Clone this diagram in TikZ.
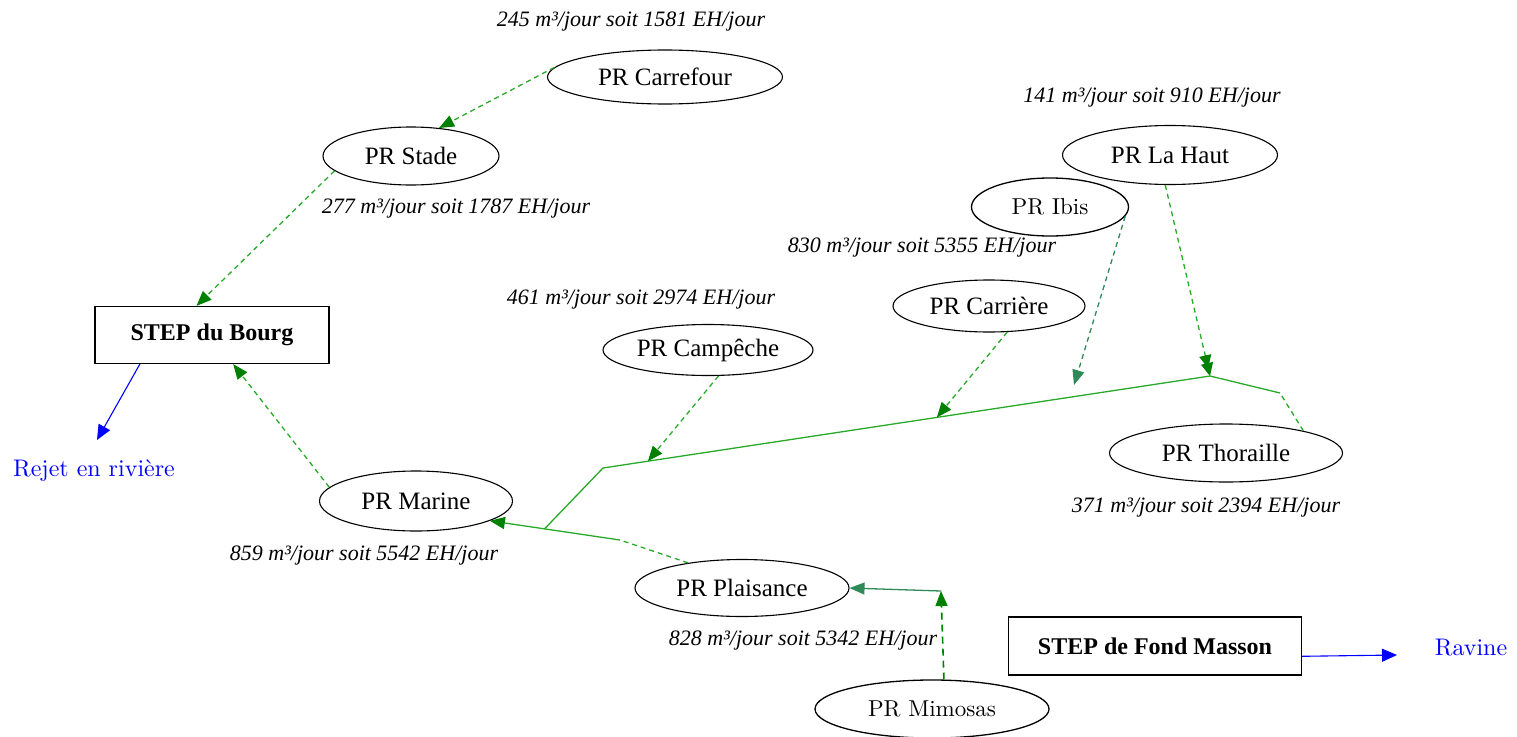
\documentclass[tikz,border=0pt]{standalone}
\usepackage{fontspec}
\newfontfamily\tms{Liberation Serif}
\newfontfamily\pal[Extension=.otf]{lmroman10-regular}
\usetikzlibrary{arrows.meta,calc,shapes.geometric}

\definecolor{flow}{RGB}{40,170,40}
\definecolor{tipgreen}{RGB}{0,128,0}
\definecolor{sea}{RGB}{46,139,87}
\definecolor{rejetblue}{RGB}{0,0,255}

\tikzset{
  pr/.style={ellipse, draw=black, line width=1.1pt, inner sep=0pt,
    font=\tms\fontsize{25}{28}\selectfont},
  prl/.style={ellipse, draw=black, line width=1.3pt, inner sep=0pt,
    font=\pal\fontsize{23}{26}\selectfont},
  stepbox/.style={draw=black, line width=1.3pt, inner sep=0pt,
    minimum width=234pt, minimum height=57pt,
    font=\tms\bfseries\fontsize{24}{27}\selectfont},
  debit/.style={font=\tms\itshape\fontsize{22}{25}\selectfont, inner sep=0pt},
  exut/.style={text=rejetblue, font=\pal\fontsize{24}{28}\selectfont, inner sep=0pt},
  gtip/.style={-{Triangle[length=15pt,width=12pt,color=tipgreen]}},
  seatip/.style={-{Triangle[length=15pt,width=12pt,color=sea]}},
  dbltip/.style={-{Triangle[length=13pt,width=12pt,color=tipgreen,sep=-5pt]Triangle[length=13pt,width=12pt,color=tipgreen]}},
  dline/.style={draw=flow, line width=1.3pt, dash pattern=on 5pt off 4pt},
  sline/.style={draw=flow, line width=1.3pt},
  bline/.style={draw=rejetblue, line width=1.1pt,
    -{Triangle[length=15pt,width=13pt,color=rejetblue]}},
}

\begin{document}
\begin{tikzpicture}[x=1pt, y=-1pt]
\useasboundingbox (0,0) rectangle (1517,736);

% pumping stations
\node[pr, minimum width=235pt, minimum height=54pt] (carrefour) at (665,77) {PR Carrefour};
\node[pr, minimum width=176pt, minimum height=58pt] (stade) at (411,156) {PR Stade};
\node[pr, minimum width=193pt, minimum height=60pt] (marine) at (416,501) {PR Marine};
\node[pr, minimum width=210pt, minimum height=51pt] (campeche) at (708,350) {PR Campêche};
\node[pr, minimum width=192pt, minimum height=52pt] (carriere) at (989,306) {PR Carrière};
\node[prl, minimum width=157pt, minimum height=58pt] (ibis) at (1050,207) {PR Ibis};
\node[pr, minimum width=215pt, minimum height=59pt] (lahaut) at (1170,155) {PR La Haut};
\node[pr, minimum width=233pt, minimum height=58pt] (thoraille) at (1226,453) {PR Thoraille};
\node[pr, minimum width=214pt, minimum height=57pt] (plaisance) at (742,588) {PR Plaisance};
\node[prl, minimum width=234pt, minimum height=58pt] (mimosas) at (932,709) {PR Mimosas};

% treatment plants and outlets
\node[stepbox] (bourg) at (212,335) {STEP du Bourg};
\node[stepbox, minimum width=293pt, minimum height=58pt] (fm) at (1155,646) {STEP de Fond Masson};
\node[exut] (rejet) at (94,471) {Rejet en rivière};
\node[exut] (ravine) at (1471,648) {Ravine};

% daily flows
\node[debit] (dcarrefour) at (631,22) {245 m³/jour soit 1581 EH/jour};
\node[debit] (dstade) at (456,209) {277 m³/jour soit 1787 EH/jour};
\node[debit] (dmarine) at (364,556) {859 m³/jour soit 5542 EH/jour};
\node[debit] (dcampeche) at (641,300) {461 m³/jour soit 2974 EH/jour};
\node[debit] (dcarriere) at (922,248) {830 m³/jour soit 5355 EH/jour};
\node[debit] (dlahaut) at (1152,98) {141 m³/jour soit 910 EH/jour};
\node[debit] (dthoraille) at (1206,508) {371 m³/jour soit 2394 EH/jour};
\node[debit] (dplaisance) at (803,641) {828 m³/jour soit 5342 EH/jour};

% network junctions
\coordinate (j1) at (603,468);
\coordinate (j2) at (1210,376);
\coordinate (j3) at (1280,393);
\coordinate (j5) at (620,540);
\coordinate (j6) at (941,591);
\coordinate (j4) at ($(j5)!0.58!(marine.345)$);
\coordinate (rejtip) at (97,440);
\coordinate (ibistip) at (1074,385);
\coordinate (ravtip) at (1397,655);

% collectors
\draw[dline, gtip] (carrefour.175) -- (stade.45);
\draw[dline, gtip] (stade.191) -- (bourg.118);
\draw[dline, gtip] (marine.171) -- (bourg.306);
\draw[sline] (j2) -- (j1) -- (j4);
\draw[dline] (thoraille.16) -- (j3);
\draw[sline] (j3) -- (j2);
\draw[dline, dbltip] (lahaut.261) -- (j2);
\draw[dline, draw=sea, seatip] (ibis.353) -- (ibistip);
\draw[dline, gtip] (campeche.292) -- ($(j1)!0.074!(j2)$);
\draw[dline, gtip] (carriere.305) -- ($(j1)!0.55!(j2)$);
\draw[dline] (plaisance.155) -- (j5);
\draw[sline, gtip] (j5) -- (marine.345);
\draw[draw=tipgreen, line width=1.6pt, dash pattern=on 7pt off 5pt, gtip] (mimosas.68) -- (j6);
\draw[line width=1.3pt, draw=sea, seatip] (j6) -- (plaisance.east);

% discharges
\draw[bline] (bourg.202) -- (rejtip);
\draw[bline] (fm.356) -- (ravtip);
\end{tikzpicture}
\end{document}
